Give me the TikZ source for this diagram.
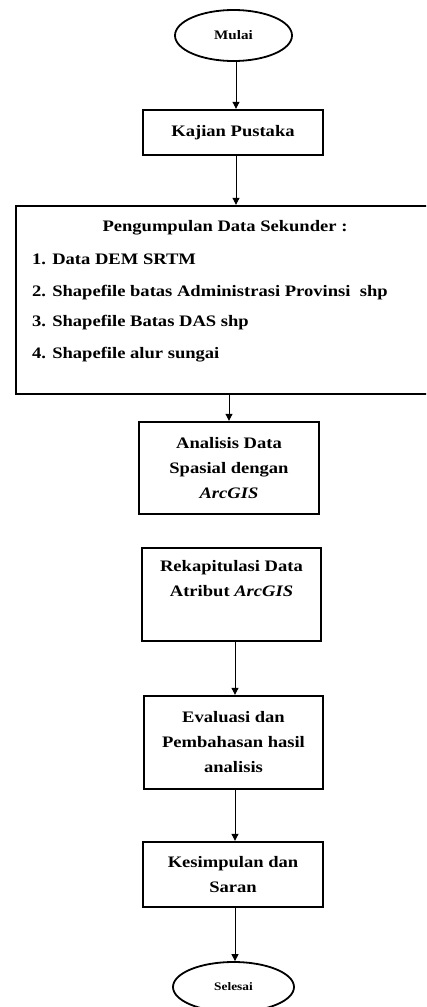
\documentclass[tikz,border=0pt]{standalone}
\usepackage{fontspec}
\setmainfont{Liberation Serif}[FakeStretch=1.16]
\usetikzlibrary{shapes.geometric,arrows.meta}
\tikzset{
  box/.style={draw, line width=2.4pt, rectangle, inner sep=0pt, font=\bfseries\fontsize{16}{25}\selectfont, align=center},
  term/.style={draw, line width=1.8pt, ellipse, inner sep=0pt},
  txt/.style={inner sep=0pt, font=\bfseries\fontsize{16}{25}\selectfont},
  arr/.style={line width=1pt, -{Triangle[length=7pt,width=7pt]}}
}
\begin{document}
\begin{tikzpicture}[x=1pt,y=-1pt]
\useasboundingbox (0,0) rectangle (426,1007);
\clip (0,0) rectangle (426,1007);
\fill[white] (0,0) rectangle (426,1007);
% terminals
\node[term, minimum width=117pt, minimum height=51pt, font=\bfseries\fontsize{13}{15}\selectfont] (mulai) at (233.5,35.5) {Mulai};
\node[term, minimum width=121pt, minimum height=50pt, font=\bfseries\fontsize{11.5}{13}\selectfont] (selesai) at (233.5,987) {Selesai};
% boxes
\node[box, minimum width=180pt, minimum height=45pt] (kajian) at (233,132.5) {Kajian Pustaka};
\node[box, minimum width=424pt, minimum height=188pt] (peng) at (228,300) {};
\node[txt, anchor=base] (pengT) at (225,231) {Pengumpulan Data Sekunder :};
\node[txt, anchor=base west] (it1) at (32,264) {1. Data DEM SRTM};
\node[txt, anchor=base west] (it2) at (32,296) {2. Shapefile batas Administrasi Provinsi\ \ shp};
\node[txt, anchor=base west] (it3) at (32,326) {3. Shapefile Batas DAS shp};
\node[txt, anchor=base west] (it4) at (32,358) {4. Shapefile alur sungai};
\node[box, minimum width=180pt, minimum height=92pt] (analisis) at (229,468) {Analisis Data\\Spasial dengan\\\textit{ArcGIS}};
\node[box, minimum width=179pt, minimum height=93pt] (rekap) at (231.5,594.5) {Rekapitulasi Data\\Atribut \textit{ArcGIS}\\\strut};
\node[box, minimum width=179pt, minimum height=93pt] (eval) at (233.5,742.5) {Evaluasi dan\\Pembahasan hasil\\analisis};
\node[box, minimum width=180pt, minimum height=65pt] (kesim) at (233,874.5) {Kesimpulan dan\\Saran};
% connectors
\draw[arr] (mulai.south -| 236,0) -- (kajian.north -| 236,0);
\draw[arr] (kajian.south -| 236,0) -- (peng.north -| 236,0);
\draw[arr] (peng.south -| analisis.north) -- (analisis.north);
\draw[arr] (rekap.south -| 235,0) -- (eval.north -| 235,0);
\draw[arr] (eval.south -| 235,0) -- (kesim.north -| 235,0);
\draw[arr] (kesim.south -| 235,0) -- (selesai.north -| 235,0);
\end{tikzpicture}
\end{document}
